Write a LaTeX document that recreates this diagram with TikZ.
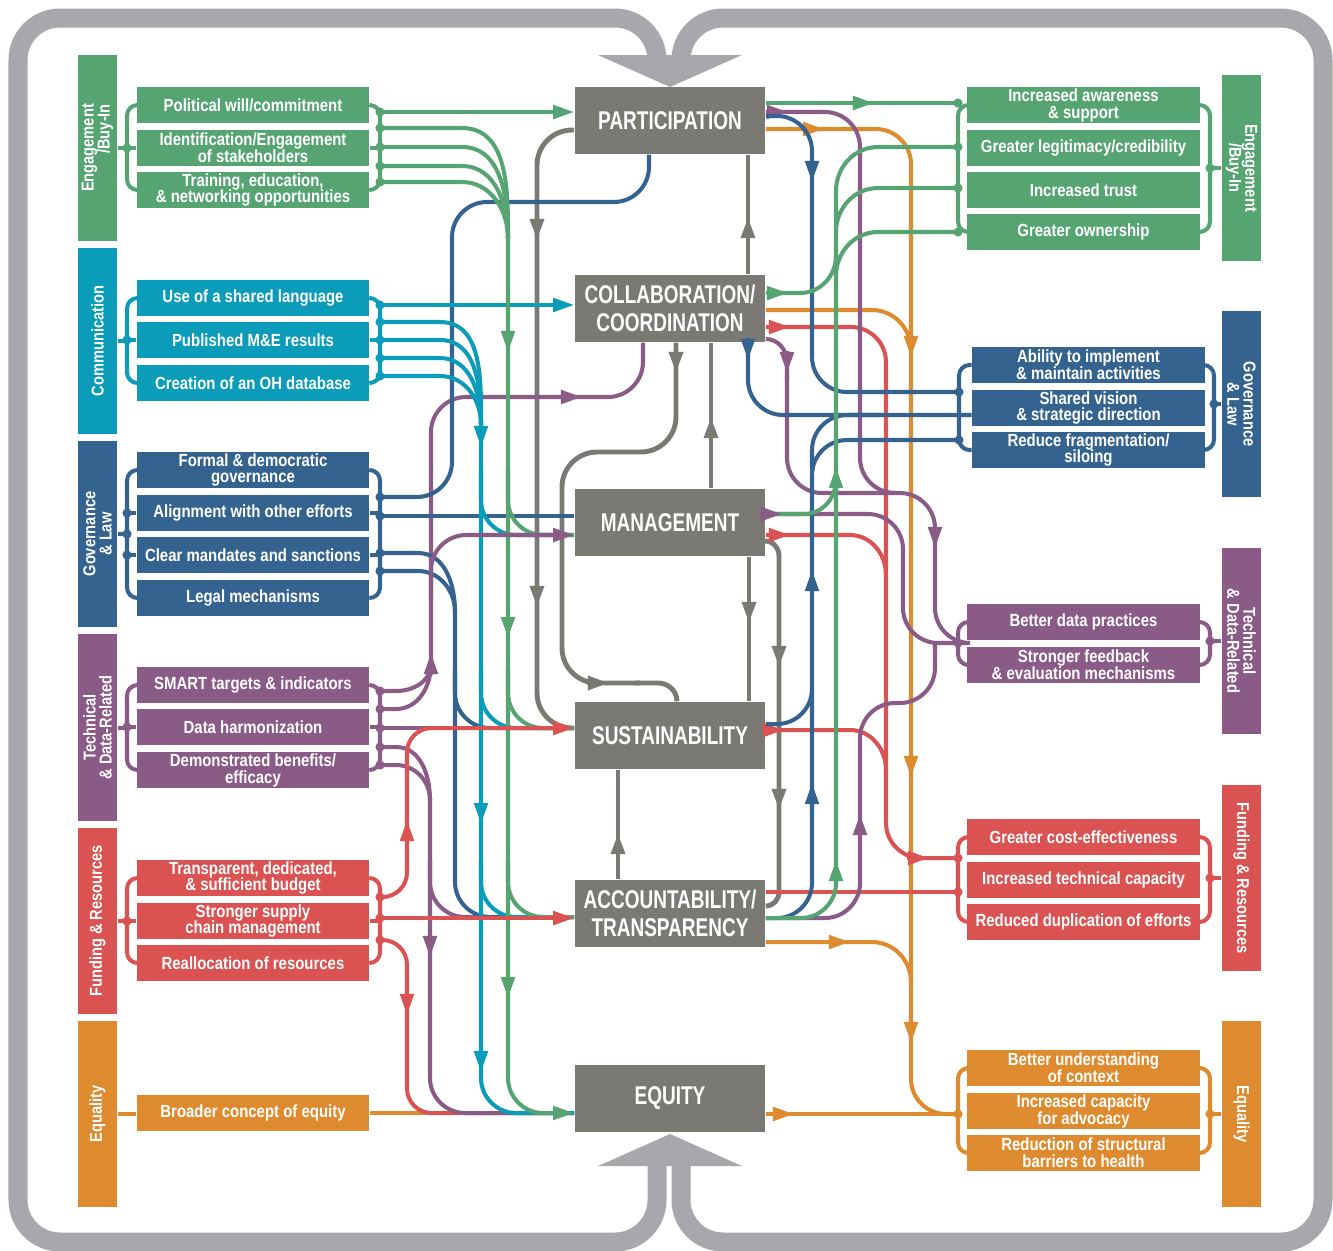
\documentclass[tikz,border=0pt]{standalone}
\usepackage{fontspec}
\setmainfont{Liberation Sans}
\newfontfamily\hubfnt{Liberation Sans}[FakeStretch=0.74]
\newfontfamily\itmfnt{Liberation Sans}[FakeStretch=0.85]
\usetikzlibrary{arrows.meta}

\definecolor{cgrn}{HTML}{56A471}
\definecolor{ctea}{HTML}{0A9CB9}
\definecolor{cblu}{HTML}{35638F}
\definecolor{cpur}{HTML}{8A5B87}
\definecolor{cred}{HTML}{DB5252}
\definecolor{corg}{HTML}{DE8A2E}
\definecolor{chub}{HTML}{7A7974}
\definecolor{cfrm}{HTML}{A6A8AB}

\tikzset{
  hub/.style={fill=chub, text=white, minimum width=1.9cm, minimum height=0.67cm,
    inner sep=0pt, align=center, font=\hubfnt\bfseries\fontsize{7.3}{7.8}\selectfont},
  itm/.style={fill=#1, text=white, minimum width=2.32cm, minimum height=0.36cm,
    inner sep=0pt, align=center, font=\itmfnt\bfseries\fontsize{5}{4.8}\selectfont},
  catbox/.style={fill=#1, text=white, minimum width=1.86cm, minimum height=0.39cm,
    inner sep=0pt, align=center, font=\itmfnt\bfseries\fontsize{4.9}{4.6}\selectfont},
  catl/.style={catbox=#1, rotate=90},
  catr/.style={catbox=#1, rotate=-90},
  flow/.style={draw=#1, line width=1.15pt, rounded corners=10pt},
  curve/.style={draw=#1, line width=1.15pt, sharp corners},
  brk/.style={draw=#1, line width=1.15pt, rounded corners=3pt},
  hubline/.style={draw=chub, line width=1.4pt, rounded corners=10pt},
  ahead/.style={-{Triangle[length=6pt,width=3.8pt]}},
}

\begin{document}
\begin{tikzpicture}[x=0.01cm, y=-0.01cm]
\useasboundingbox (0,0) rectangle (1333,1250);

% frame
\draw[cfrm, line width=0.19cm, rounded corners=0.42cm]
  (657,62) -- (657,18) -- (18,18) -- (18,1242) -- (657,1242) -- (657,1160);
\draw[cfrm, line width=0.19cm, rounded corners=0.42cm]
  (681,62) -- (681,18) -- (1323,18) -- (1323,1242) -- (681,1242) -- (681,1160);
\fill[cfrm] (598,55) -- (742,55) -- (670,87) -- cycle;
\fill[cfrm] (598,1166) -- (742,1166) -- (670,1134) -- cycle;

% hubs
\node[hub] (part) at (670,120.5) {PARTICIPATION};
\node[hub] (coll) at (670,308.5) {COLLABORATION/\\COORDINATION};
\node[hub] (mgmt) at (670,522.5) {MANAGEMENT};
\node[hub] (sust) at (670,735.5) {SUSTAINABILITY};
\node[hub] (acct) at (670,913.5) {ACCOUNTABILITY/\\TRANSPARENCY};
\node[hub] (equi) at (670,1098.5) {EQUITY};

% left items
\node[itm=cgrn] (pwc) at (253,105) {Political will/commitment};
\node[itm=cgrn] (ies) at (253,148) {Identification/Engagement\\of stakeholders};
\node[itm=cgrn] (ten) at (253,190) {Training, education,\\\& networking opportunities};
\node[itm=ctea] (lang) at (253,298) {Use of a shared language};
\node[itm=ctea] (mne) at (253,340) {Published M\&E results};
\node[itm=ctea] (odb) at (253,383) {Creation of an OH database};
\node[itm=cblu] (fdg) at (253,470) {Formal \& democratic\\governance};
\node[itm=cblu] (aln) at (253,513) {Alignment with other efforts};
\node[itm=cblu] (cms) at (253,555) {Clear mandates and sanctions};
\node[itm=cblu] (lgl) at (253,598) {Legal mechanisms};
\node[itm=cpur] (smt) at (253,685) {SMART targets \& indicators};
\node[itm=cpur] (dhm) at (253,727) {Data harmonization};
\node[itm=cpur] (dbe) at (253,770) {Demonstrated benefits/\\efficacy};
\node[itm=cred] (bud) at (253,878) {Transparent, dedicated,\\\& sufficient budget};
\node[itm=cred] (scm) at (253,921) {Stronger supply\\chain management};
\node[itm=cred] (rea) at (253,963) {Reallocation of resources};
\node[itm=corg] (bce) at (253,1113) {Broader concept of equity};

% right items
\node[itm=cgrn] (ias) at (1083.5,105) {Increased awareness\\\& support};
\node[itm=cgrn] (glc) at (1083.5,148) {Greater legitimacy/credibility};
\node[itm=cgrn] (itr) at (1083.5,190) {Increased trust};
\node[itm=cgrn] (gow) at (1083.5,232) {Greater ownership};
\node[itm=cblu] (aim) at (1088.5,365) {Ability to implement\\\& maintain activities};
\node[itm=cblu] (svs) at (1088.5,408) {Shared vision\\\& strategic direction};
\node[itm=cblu] (rfs) at (1088.5,450) {Reduce fragmentation/\\siloing};
\node[itm=cpur] (bdp) at (1083.5,622) {Better data practices};
\node[itm=cpur] (sfe) at (1083.5,665) {Stronger feedback\\\& evaluation mechanisms};
\node[itm=cred] (gce) at (1083.5,837) {Greater cost-effectiveness};
\node[itm=cred] (itc) at (1083.5,880) {Increased technical capacity};
\node[itm=cred] (rde) at (1083.5,922) {Reduced duplication of efforts};
\node[itm=corg] (buc) at (1083.5,1068) {Better understanding\\of context};
\node[itm=corg] (ica) at (1083.5,1111) {Increased capacity\\for advocacy};
\node[itm=corg] (rsb) at (1083.5,1153) {Reduction of structural\\barriers to health};

% category bars
\node[catl=cgrn, align=right] (lEng) at (97.5,148) {Engagement\\/Buy-In};
\node[catl=ctea] (lCom) at (97.5,341) {Communication};
\node[catl=cblu] (lGov) at (97.5,534) {Governance\\\& Law};
\node[catl=cpur] (lTec) at (97.5,727.5) {Technical\\\& Data-Related};
\node[catl=cred] (lFun) at (97.5,921) {Funding \& Resources};
\node[catl=corg] (lEqu) at (97.5,1114) {Equality};
\node[catr=cgrn] (rEng) at (1241.5,168) {Engagement\\/Buy-In};
\node[catr=cblu] (rGov) at (1241.5,404) {Governance\\\& Law};
\node[catr=cpur] (rTec) at (1241.5,641) {Technical\\\& Data-Related};
\node[catr=cred] (rFun) at (1241.5,878) {Funding \& Resources};
\node[catr=corg] (rEqu) at (1241.5,1114) {Equality};

% brackets, left
\draw[brk=cgrn] (pwc.west) -| (127,190) -- (ten.west);
\draw[brk=cgrn] (ies.west) -- (127,148) (lEng.south) -- (lEng.south -| 127,0);
\draw[brk=cgrn] (pwc.east) -| (380,190) -- (ten.east);
\draw[brk=cgrn] (ies.east) -- (380,148);
\draw[brk=ctea] (lang.west) -| (127,383) -- (odb.west);
\draw[brk=ctea] (mne.west) -- (127,340) (lCom.south) -- (lCom.south -| 127,0);
\draw[brk=ctea] (lang.east) -| (380,383) -- (odb.east);
\draw[brk=ctea] (mne.east) -- (380,340);
\draw[brk=cblu] (fdg.west) -| (127,598) -- (lgl.west);
\draw[brk=cblu] (aln.west) -- (127,513) (cms.west) -- (127,555) (lGov.south) -- (lGov.south -| 127,0);
\draw[brk=cblu] (fdg.east) -| (380,598) -- (lgl.east);
\draw[brk=cblu] (aln.east) -- (380,513) (cms.east) -- (380,555);
\draw[brk=cpur] (smt.west) -| (127,770) -- (dbe.west);
\draw[brk=cpur] (dhm.west) -- (127,727) (lTec.south) -- (lTec.south -| 127,0);
\draw[brk=cpur] (smt.east) -| (380,770) -- (dbe.east);
\draw[brk=cpur] (dhm.east) -- (380,727);
\draw[brk=cred] (bud.west) -| (127,963) -- (rea.west);
\draw[brk=cred] (scm.west) -- (127,921) (lFun.south) -- (lFun.south -| 127,0);
\draw[brk=cred] (bud.east) -| (380,963) -- (rea.east);
\draw[brk=cred] (scm.east) -- (380,921);
\draw[brk=corg] (lEqu.south) -- (lEqu.south -| bce.west);

% brackets, right
\draw[brk=cgrn] (ias.west) -| (958,232) -- (gow.west);
\draw[brk=cgrn] (ias.east) -| (1210,232) -- (gow.east);
\draw[brk=cgrn] (rEng.south) -- (rEng.south -| 1210,0);
\draw[brk=cblu] (aim.west) -| (959,450) -- (rfs.west);
\draw[brk=cblu] (aim.east) -| (1214,450) -- (rfs.east);
\draw[brk=cblu] (rGov.south) -- (rGov.south -| 1214,0);
\draw[brk=cpur] (bdp.west) -| (958,665) -- (sfe.west);
\draw[brk=cpur] (bdp.east) -| (1210,665) -- (sfe.east);
\draw[brk=cpur] (rTec.south) -- (rTec.south -| 1210,0);
\draw[brk=cred] (gce.west) -| (958,922) -- (rde.west);
\draw[brk=cred] (gce.east) -| (1210,922) -- (rde.east);
\draw[brk=cred] (rFun.south) -- (rFun.south -| 1210,0);
\draw[brk=corg] (buc.west) -| (958,1153) -- (rsb.west);
\draw[brk=corg] (buc.east) -| (1210,1153) -- (rsb.east);
\draw[brk=corg] (rEqu.south) -- (rEqu.south -| 1210,0);

% hub to hub
\draw[hubline] (part.west |- 0,130) -| (537,728) -- (sust.west |- 0,728);
\foreach \yy in {240,607} \draw[hubline, ahead] (537,\yy-22) -- (537,\yy);
\draw[hubline] (coll.north -| 748,0) -- (part.south -| 748,0);
\draw[hubline, ahead] (748,239) -- (748,217);
\draw[hubline] (mgmt.north -| 711,0) -- (coll.south -| 711,0);
\draw[hubline, ahead] (711,439) -- (711,417);
\draw[hubline] (coll.south -| 676,0) |- (562,452) |- (640,683);
\draw[hubline, sharp corners] (635,683) -- (658,683) to[out=0,in=90] (sust.north -| 677,0);
\draw[hubline, ahead] (676,351) -- (676,373);
\draw[hubline, ahead] (587,683) -- (609,683);
\draw[hubline] (mgmt.south -| 749,0) -- (sust.north -| 749,0);
\draw[hubline, ahead] (749,601) -- (749,623);
\draw[hubline, sharp corners] (mgmt.east |- 0,541) -- (765,541) to[out=0,in=90] (779,556) -- (779,892) to[out=-90,in=0] (acct.east |- 0,906);
\foreach \yy in {667,810} \draw[hubline, ahead] (779,\yy-22) -- (779,\yy);
\draw[hubline] (acct.north -| 618,0) -- (sust.south -| 618,0);
\draw[hubline, ahead] (618,855) -- (618,833);

% left flows
\draw[curve=corg] (bce.east) -- (equi.west |- bce.east);
\draw[flow=cred, rounded corners=7pt] (380,940) -| (407,1113) -- (equi.west |- 0,1113);
\draw[flow=cred, ahead] (407,993) -- (407,1015);
\draw[flow=cred, ahead] (407,842) -- (407,820);
\foreach \yy in {691,709}
  \draw[curve=cpur] (380,\yy) -- (396,\yy) to[out=0,in=-90] (431,664);
\draw[flow=cpur] (431,666) |- (643,397) -- (coll.south -| 643,0);
\draw[flow=cpur, ahead] (431,675) -- (431,653);
\draw[flow=cpur, ahead] (560,397) -- (582,397);
\draw[curve=cpur] (380,728) -- (sust.west |- 0,728);
\foreach \yy in {747,765}
  \draw[curve=cpur] (380,\yy) -- (396,\yy) to[out=0,in=90] (430,800);
\draw[flow=cpur] (430,798) |- (equi.west |- 0,1113);
\draw[flow=cpur] (430,860) |- (acct.west |- 0,917);
\draw[flow=cpur, ahead] (430,935) -- (430,957);
\draw[flow=cblu] (380,497) -| (452,202) -| (part.south -| 649,0);
\draw[curve=cblu] (380,516) -- (mgmt.west |- 0,516);
\foreach \yy in {553,571}
  \draw[curve=cblu] (380,\yy) -- (418,\yy) to[out=0,in=90] (455,612);
\draw[flow=cblu] (455,610) |- (acct.west |- 0,917);
\draw[flow=cblu] (455,670) |- (sust.west |- 0,728);
\draw[curve=ctea, ahead] (380,305) -- (coll.west |- 0,305);
\foreach \yy in {322,340,358,376}
  \draw[curve=ctea] (380,\yy) -- (440,\yy) to[out=0,in=90] (481,424);
\draw[flow=ctea] (481,422) |- (equi.west |- 0,1113);
\draw[flow=ctea] (481,470) |- (mgmt.west |- 0,535);
\draw[flow=ctea] (481,670) |- (sust.west |- 0,728);
\draw[flow=ctea] (481,860) |- (acct.west |- 0,917);
\foreach \yy in {447,824,1072} \draw[flow=ctea, ahead] (481,\yy-22) -- (481,\yy);
\draw[curve=cgrn, ahead] (380,112) -- (part.west |- 0,112);
\foreach \yy in {128,147,166,182}
  \draw[curve=cgrn] (380,\yy) -- (462,\yy) to[out=0,in=90] (508,238);
\draw[flow=cgrn] (508,470) |- (mgmt.west |- 0,535);
\draw[flow=cgrn] (508,670) |- (sust.west |- 0,728);
\draw[flow=cgrn] (508,860) |- (acct.west |- 0,917);
\draw[flow=cgrn, ahead] (508,236) |- (equi.west |- 0,1113);
\foreach \yy in {352,638,998} \draw[flow=cgrn, ahead] (508,\yy-22) -- (508,\yy);
\draw[flow=cpur, ahead] (431,600) |- (mgmt.west |- 0,535);
\draw[flow=cred, rounded corners=7pt, ahead] (380,897) -| (407,728) -- (sust.west |- 0,728);
\draw[curve=cred, ahead] (380,918) -- (acct.west |- 0,918);

% right flows
\draw[flow=corg] (part.east |- 0,129) -| (911,1114) -- (958,1114);
\draw[flow=corg, ahead] (802,129) -- (824,129);
\foreach \yy in {357,777,1043} \draw[flow=corg, ahead] (911,\yy-22) -- (911,\yy);
\draw[curve=corg] (coll.east |- 0,310) -- (872,310) to[out=0,in=90] (911,350);
\draw[curve=corg] (acct.east |- 0,942) -- (872,942) to[out=0,in=90] (911,982);
\draw[flow=corg, ahead] (828,942) -- (850,942);
\draw[curve=corg] (equi.east |- 0,1114) -- (958,1114);
\draw[flow=corg, ahead] (772,1114) -- (794,1114);

\draw[flow=cred] (coll.east |- 0,327) -| (886,858) -- (958,858);
\draw[flow=cred, ahead] (768,327) -- (790,327);
\draw[flow=cred, ahead] (907,858) -- (929,858);
\draw[curve=cred] (mgmt.east |- 0,535) -- (850,535) to[out=0,in=90] (886,575);
\draw[flow=cred, ahead] (768,535) -- (790,535);
\draw[curve=cred] (sust.east |- 0,730) -- (850,730) to[out=0,in=90] (886,770);
\draw[flow=cred, ahead] (762,730) -- (784,730);
\draw[curve=cred] (acct.east |- 0,892) -- (958,892);

\draw[flow=cpur] (part.east |- 0,112) -| (860,493) -- (895,493);
\draw[flow=cpur, ahead] (766,112) -- (788,112);
\draw[curve=cpur] (coll.east |- 0,339) to[out=0,in=90] (787,362) -- (787,380);
\draw[flow=cpur] (787,375) |- (935,493) -- (935,643) -- (958,643);
\draw[flow=cpur, ahead] (787,351) -- (787,373);
\draw[flow=cpur, ahead] (935,526) -- (935,548);
\draw[flow=cpur] (mgmt.east |- 0,514) -| (903,643) -- (958,643);
\draw[flow=cpur] (acct.east |- 0,918) -| (860,703) -| (935,643);
\draw[flow=cpur, ahead] (860,836) -- (860,814);

\draw[flow=cblu] (part.east |- 0,116) -| (812,392) -- (959,392);
\draw[flow=cblu, ahead] (812,160) -- (812,182);
\draw[flow=cblu] (coll.south -| 748,0) |- (svs.west |- 0,415);
\draw[flow=cblu, ahead] (748,338) -- (748,360);
\draw[flow=cblu] (sust.east |- 0,724) -| (812,440) -- (959,440);
\draw[flow=cblu] (812,470) |- (880,415);
\draw[flow=cblu] (acct.east |- 0,918) -| (812,690);
\foreach \yy in {570,783} \draw[flow=cblu, ahead] (812,\yy+22) -- (812,\yy);

\draw[curve=cgrn] (part.east |- 0,103) -- (958,103);
\draw[flow=cgrn, ahead] (852,103) -- (874,103);
\foreach \yy in {147,188,232}
  \draw[curve=cgrn] (958,\yy) -- (878,\yy) to[out=180,in=90] (836,\yy+44);
\draw[flow=cgrn] (836,190) |- (acct.east |- 0,918);
\draw[curve=cgrn] (coll.east |- 0,293) -- (800,293) to[out=0,in=-90] (836,256);
\draw[flow=cgrn, ahead] (766,293) -- (788,293);
\draw[curve=cgrn] (mgmt.east |- 0,514) -- (804,514) to[out=0,in=-90] (836,480);
\foreach \yy in {467,860} \draw[flow=cgrn, ahead] (836,\yy+22) -- (836,\yy);
\draw[flow=cpur, ahead] (760,514) -- (782,514);

% dots
\foreach \c/\xx/\yy in {cgrn/380/112, cgrn/380/128, cgrn/380/147, cgrn/380/166, cgrn/380/182,
  ctea/380/305, ctea/380/322, ctea/380/340, ctea/380/358, ctea/380/376,
  cblu/380/497, cblu/380/516, cblu/380/553, cblu/380/571,
  cpur/380/691, cpur/380/709, cpur/380/728, cpur/380/747, cpur/380/765,
  cred/380/897, cred/380/918, cred/380/940,
  cgrn/127/148, ctea/127/340, cblu/127/513, cblu/127/534, cblu/127/555, cpur/127/727, cred/127/921,
  cgrn/958/103, cgrn/958/147, cgrn/958/188, cgrn/958/232, cblu/959/392, cblu/959/440,
  cpur/958/643, cred/958/858, cred/958/892, corg/958/1114,
  cgrn/1210/168, cblu/1214/404, cpur/1210/641, cred/1210/878, corg/1210/1114}
  \fill[\c] (\xx,\yy) circle (1.3pt);
\end{tikzpicture}
\end{document}
